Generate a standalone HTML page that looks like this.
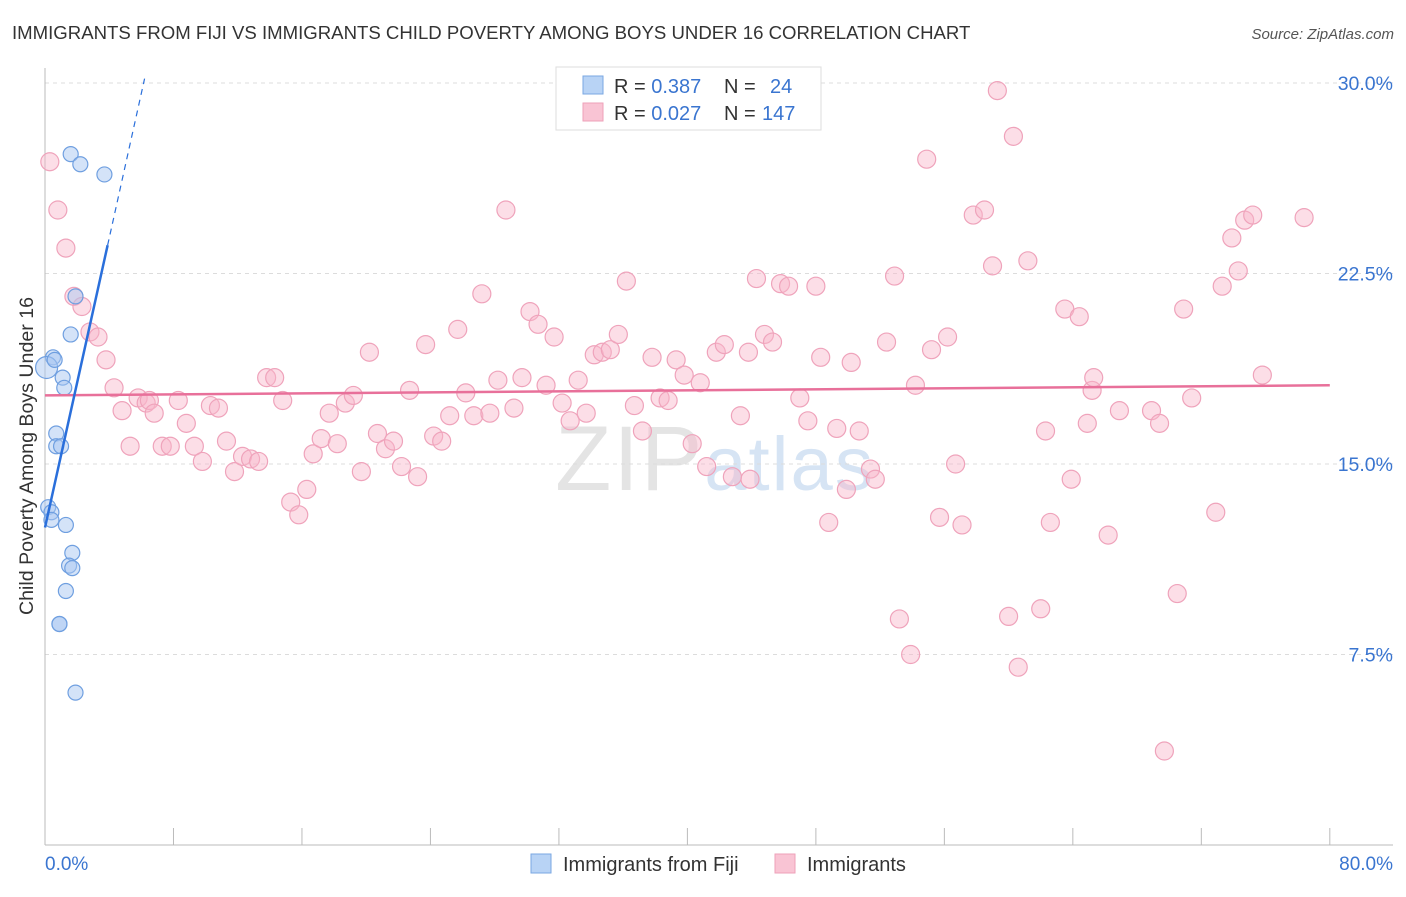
<!DOCTYPE html>
<html><head><meta charset="utf-8"><style>
body{margin:0;background:#fff;font-family:"Liberation Sans",sans-serif}
svg text{font-family:"Liberation Sans",sans-serif}
</style></head><body>
<svg id="chart" width="1406" height="892" xmlns="http://www.w3.org/2000/svg">
<text x="12" y="39" font-size="18.6" fill="#333">IMMIGRANTS FROM FIJI VS IMMIGRANTS CHILD POVERTY AMONG BOYS UNDER 16 CORRELATION CHART</text>
<text x="1394" y="39" font-size="15" fill="#555" text-anchor="end" font-style="italic">Source: ZipAtlas.com</text>
<text x="715" y="490" font-size="92" fill="#e4e4e4" text-anchor="middle" font-family="Liberation Serif" letter-spacing="2">ZIP<tspan fill="#d6e4f4" font-family="Liberation Sans" font-size="76">atlas</tspan></text>
<g id="grid"></g>
<g id="axes"></g>
<g id="pts"></g>
<g id="lines"></g>
<text transform="translate(33,456) rotate(-90)" font-size="19.6" fill="#333" text-anchor="middle">Child Poverty Among Boys Under 16</text>
<text x="45" y="870" font-size="19" fill="#3a75d0">0.0%</text>
<text x="1393" y="870" font-size="19" fill="#3a75d0" text-anchor="end">80.0%</text>
<g>
<rect x="556" y="67" width="265" height="63" fill="#fff" stroke="#ddd"/>
<rect x="583" y="76" width="20" height="18" fill="#b8d3f5" stroke="#7aa7e2"/>
<rect x="583" y="103" width="20" height="18" fill="#f9c4d4" stroke="#eea1b9"/>
<text x="614" y="93" font-size="20" fill="#333">R = <tspan fill="#3a75d0">0.387</tspan><tspan x="724">N = </tspan><tspan x="770" fill="#3a75d0">24</tspan></text>
<text x="614" y="120" font-size="20" fill="#333">R = <tspan fill="#3a75d0">0.027</tspan><tspan x="724">N = </tspan><tspan x="762" fill="#3a75d0">147</tspan></text>
</g>
<g><rect x="531" y="854" width="20" height="19" fill="#b8d3f5" stroke="#7aa7e2"/><text x="563" y="871" font-size="20" fill="#333">Immigrants from Fiji</text></g>
<g><rect x="775" y="854" width="20" height="19" fill="#f9c4d4" stroke="#eea1b9"/><text x="807" y="871" font-size="20" fill="#333">Immigrants</text></g>
</svg>
<script>
const yTicks=[7.5,15,22.5,30];
const yTickLabels=["7.5%","15.0%","22.5%","30.0%"];
const xTicks=[0,8,16,24,32,40,48,56,64,72,80];
const fijiX=[1.6,2.2,3.7,1.9,1.6,0.5,0.1,1.1,1.2,0.7,0.7,1.0,0.2,0.4,0.4,1.3,1.7,1.5,1.7,1.3,0.9,0.9,1.9,0.6];
const fijiY=[27.2,26.8,26.4,21.6,20.1,19.2,18.8,18.4,18.0,16.2,15.7,15.7,13.3,13.1,12.8,12.6,11.5,11.0,10.9,10.0,8.7,8.7,6.0,19.1];
const immX=[0.3,0.8,1.3,1.8,2.3,2.8,3.3,3.8,4.3,4.8,5.3,5.8,6.3,6.5,6.8,7.3,7.8,8.3,8.8,9.3,9.8,10.3,10.8,11.3,11.8,12.3,12.8,13.3,13.8,14.3,14.8,15.3,15.8,16.3,16.7,17.2,17.7,18.2,18.7,19.2,19.7,20.2,20.7,21.2,21.7,22.2,22.7,23.2,23.7,24.2,24.7,25.2,25.7,26.2,26.7,27.2,27.7,28.2,28.7,29.2,29.7,30.2,30.7,31.2,31.7,32.2,32.7,33.2,33.7,34.2,34.7,35.2,35.7,36.2,36.7,37.2,37.8,38.3,38.8,39.3,39.8,40.3,40.8,41.2,41.8,42.3,42.8,43.3,43.8,44.3,44.8,45.3,45.8,46.3,47.0,47.5,48.0,48.3,48.8,49.3,49.9,50.2,50.7,51.4,51.7,52.4,52.9,53.2,53.9,54.2,54.9,55.2,55.7,56.2,56.7,57.1,57.8,58.5,59.0,59.3,60.0,60.3,60.6,61.2,62.0,62.3,62.6,63.5,63.9,64.4,64.9,65.2,65.3,66.2,66.9,68.9,69.4,69.7,70.5,70.9,71.4,72.9,73.3,73.9,74.3,74.7,75.2,75.8,78.4,43.9];
const immY=[26.9,25.0,23.5,21.6,21.2,20.2,20.0,19.1,18.0,17.1,15.7,17.6,17.4,17.5,17.0,15.7,15.7,17.5,16.6,15.7,15.1,17.3,17.2,15.9,14.7,15.3,15.2,15.1,18.4,18.4,17.5,13.5,13.0,14.0,15.4,16.0,17.0,15.8,17.4,17.7,14.7,19.4,16.2,15.6,15.9,14.9,17.9,14.5,19.7,16.1,15.9,16.9,20.3,17.8,16.9,21.7,17.0,18.3,25.0,17.2,18.4,21.0,20.5,18.1,20.0,17.4,16.7,18.3,17.0,19.3,19.4,19.5,20.1,22.2,17.3,16.3,19.2,17.6,17.5,19.1,18.5,15.8,18.2,14.9,19.4,19.7,14.5,16.9,19.4,22.3,20.1,19.8,22.1,22.0,17.6,16.7,22.0,19.2,12.7,16.4,14.0,19.0,16.3,14.8,14.4,19.8,22.4,8.9,7.5,18.1,27.0,19.5,12.9,20.0,15.0,12.6,24.8,25.0,22.8,29.7,9.0,27.9,7.0,23.0,9.3,16.3,12.7,21.1,14.4,20.8,16.6,17.9,18.4,12.2,17.1,17.1,16.6,3.7,9.9,21.1,17.6,13.1,22.0,23.9,22.6,24.6,24.8,18.5,24.7,14.4];
const immTrend=[17.7,18.1];
const fijiTrend=[12.5,2.85];
const NS="http://www.w3.org/2000/svg";
const X=v=>45+v*16.06, Y=v=>845-v*25.4;
function mk(t,a,p){const e=document.createElementNS(NS,t);for(const k in a)e.setAttribute(k,a[k]);p.appendChild(e);return e;}
const grid=document.getElementById('grid'),axes=document.getElementById('axes'),pts=document.getElementById('pts'),lines=document.getElementById('lines');
yTicks.forEach((t,i)=>{
 const l=mk('line',{x1:45,x2:1393,y1:Y(t),y2:Y(t),stroke:'#dcdcdc','stroke-dasharray':'4,4'},grid);
 
 
 const tx=mk('text',{x:1393,y:Y(t)+7,'font-size':19.5,fill:'#3a75d0','text-anchor':'end'},grid);
 tx.textContent=yTickLabels[i];
 
 
});
const ya=mk('line',{x1:45,x2:45,y1:68,y2:845,stroke:'#bbb'},axes);


const xa=mk('line',{x1:45,x2:1393,y1:845,y2:845,stroke:'#bbb'},axes);


xTicks.forEach(t=>{
 const l=mk('line',{x1:X(t),x2:X(t),y1:828,y2:845,stroke:'#bbb'},axes);
 
 
});
immX.forEach((v,i)=>{
 const c=mk('circle',{cx:X(v),cy:Y(immY[i]),r:9,fill:'rgba(248,182,202,0.45)',stroke:'#efa3bb','stroke-width':1.2},pts);
 
 
});
fijiX.forEach((v,i)=>{
 const c=mk('circle',{cx:X(v),cy:Y(fijiY[i]),r:(i==6?11:7.5),fill:'rgba(170,200,242,0.5)',stroke:'#6f9fe0','stroke-width':1.2},pts);
 
 
});
const pl=mk('line',{x1:X(0),y1:Y(immTrend[0]),x2:X(80),y2:Y(immTrend[1]),stroke:'#e8709a','stroke-width':2.5},lines);


const fx=3.9, fxe=(30-fijiTrend[0])/fijiTrend[1]+0.06;
const bl=mk('line',{x1:X(0),y1:Y(fijiTrend[0]),x2:X(fx),y2:Y(fijiTrend[0]+fijiTrend[1]*fx),stroke:'#2a6fdb','stroke-width':2.5},lines);


const bd=mk('line',{x1:X(fx),y1:Y(fijiTrend[0]+fijiTrend[1]*fx),x2:X(fxe),y2:Y(fijiTrend[0]+fijiTrend[1]*fxe),stroke:'#2a6fdb','stroke-width':1.2,'stroke-dasharray':'6,5'},lines);


</script>
</body></html>
